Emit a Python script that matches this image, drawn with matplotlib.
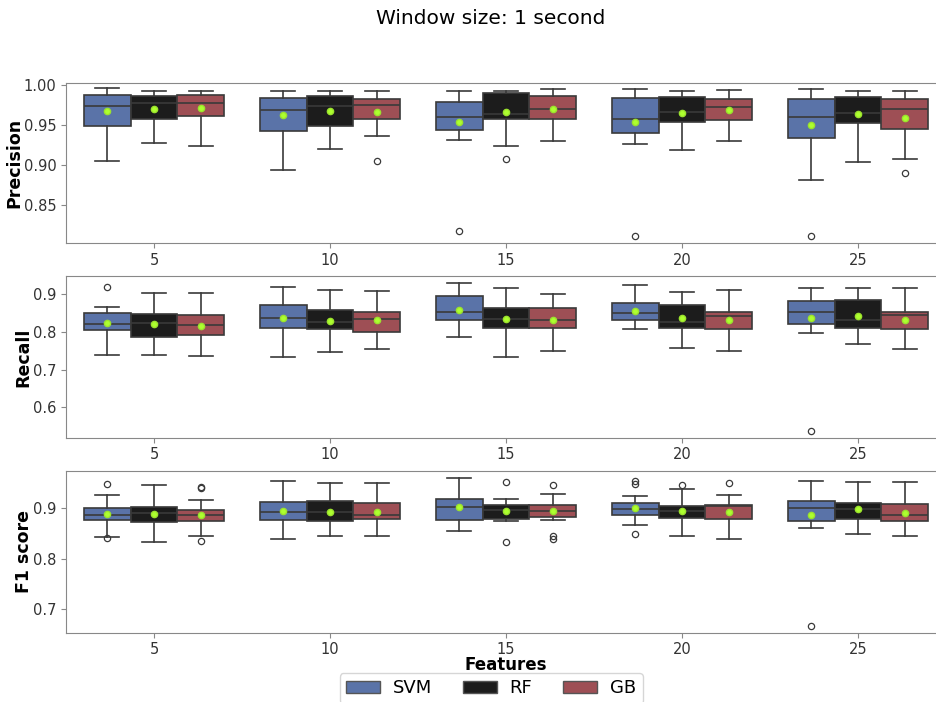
#### Workspace setup ####
import matplotlib

matplotlib.use("Agg")
import matplotlib.pyplot as plt
from matplotlib.patches import Patch

#### Data ####
features = [5, 10, 15, 20, 25]
models = ["SVM", "RF", "GB"]
colours = ["#5a73a8", "#1c1c1c", "#9e4f55"]

# each list: [SVM, RF, GB], each inner list follows `features`
precision_whishi = [[0.9966, 0.9933, 0.9933, 0.995, 0.9958],
                    [0.9925, 0.9925, 0.9925, 0.9925, 0.9925],
                    [0.9933, 0.9925, 0.995, 0.9937, 0.9925]]
precision_q3 = [[0.988, 0.984, 0.979, 0.984, 0.983],
                [0.987, 0.9866, 0.990, 0.9858, 0.9858],
                [0.988, 0.983, 0.987, 0.9825, 0.983]]
precision_med = [[0.974, 0.969, 0.961, 0.9575, 0.961],
                 [0.9775, 0.974, 0.9637, 0.967, 0.965],
                 [0.9775, 0.9754, 0.970, 0.9725, 0.971]]
precision_mean = [[0.968, 0.963, 0.9545, 0.954, 0.950],
                  [0.971, 0.968, 0.9666, 0.9658, 0.964],
                  [0.9716, 0.9666, 0.9704, 0.969, 0.9587]]
precision_q1 = [[0.9487, 0.943, 0.944, 0.941, 0.9345],
                [0.9575, 0.9487, 0.9575, 0.9545, 0.9533],
                [0.962, 0.9575, 0.9575, 0.9566, 0.9454]]
precision_whislo = [[0.906, 0.894, 0.932, 0.927, 0.882],
                    [0.928, 0.921, 0.9245, 0.919, 0.904],
                    [0.9245, 0.9366, 0.931, 0.930, 0.908]]
precision_fliers = [[[], [], [0.818], [0.812], [0.812]],
                    [[], [], [0.908], [], []],
                    [[], [0.906], [], [], [0.890]]]

recall_whishi = [[0.8655, 0.9186, 0.930, 0.9247, 0.9159],
                 [0.904, 0.911, 0.916, 0.906, 0.916],
                 [0.903, 0.910, 0.900, 0.911, 0.916]]
recall_q3 = [[0.8496, 0.8725, 0.8955, 0.8769, 0.8814],
             [0.848, 0.858, 0.863, 0.8725, 0.885],
             [0.844, 0.854, 0.863, 0.854, 0.854]]
recall_med = [[0.822, 0.838, 0.854, 0.8496, 0.852],
              [0.825, 0.8265, 0.8336, 0.827, 0.831],
              [0.819, 0.834, 0.833, 0.842, 0.845]]
recall_mean = [[0.824, 0.838, 0.858, 0.855, 0.837],
               [0.822, 0.829, 0.835, 0.837, 0.842],
               [0.817, 0.833, 0.833, 0.831, 0.833]]
recall_q1 = [[0.8045, 0.810, 0.833, 0.833, 0.821],
             [0.786, 0.807, 0.811, 0.811, 0.810],
             [0.791, 0.800, 0.811, 0.807, 0.807]]
recall_whislo = [[0.738, 0.734, 0.786, 0.807, 0.798],
                 [0.738, 0.747, 0.733, 0.758, 0.768],
                 [0.7355, 0.754, 0.750, 0.750, 0.756]]
recall_fliers = [[[0.919], [], [], [], [0.538]],
                 [[], [], [], [], []],
                 [[], [], [], [], []]]

f1_whishi = [[0.926, 0.954, 0.961, 0.924, 0.954],
             [0.947, 0.950, 0.9185, 0.938, 0.952],
             [0.917, 0.950, 0.929, 0.926, 0.952]]
f1_q3 = [[0.901, 0.912, 0.919, 0.910, 0.915],
         [0.903, 0.914, 0.907, 0.905, 0.9105],
         [0.896, 0.9105, 0.907, 0.907, 0.9086]]
f1_med = [[0.886, 0.892, 0.902, 0.899, 0.900],
          [0.890, 0.892, 0.897, 0.894, 0.898],
          [0.886, 0.886, 0.895, 0.905, 0.887]]
f1_mean = [[0.889, 0.895, 0.903, 0.901, 0.887],
           [0.889, 0.892, 0.895, 0.895, 0.898],
           [0.886, 0.893, 0.895, 0.893, 0.890]]
f1_q1 = [[0.877, 0.877, 0.877, 0.887, 0.875],
         [0.872, 0.875, 0.879, 0.880, 0.879],
         [0.875, 0.879, 0.883, 0.879, 0.875]]
f1_whislo = [[0.843, 0.839, 0.855, 0.866, 0.860],
             [0.832, 0.844, 0.875, 0.844, 0.848],
             [0.845, 0.844, 0.877, 0.838, 0.844]]
f1_fliers = [[[0.949, 0.840], [], [], [0.955, 0.948, 0.848], [0.667]],
             [[], [], [0.952, 0.833], [0.947], []],
             [[0.942, 0.940, 0.834], [], [0.946, 0.845, 0.838], [0.951], []]]

panels = [
    ("Precision", precision_whislo, precision_q1, precision_med, precision_mean,
     precision_q3, precision_whishi, precision_fliers,
     (0.8025, 1.003), [0.85, 0.90, 0.95, 1.00], "{:.2f}"),
    ("Recall", recall_whislo, recall_q1, recall_med, recall_mean,
     recall_q3, recall_whishi, recall_fliers,
     (0.5196, 0.9486), [0.6, 0.7, 0.8, 0.9], "{:.1f}"),
    ("F1 score", f1_whislo, f1_q1, f1_med, f1_mean,
     f1_q3, f1_whishi, f1_fliers,
     (0.6527, 0.974), [0.7, 0.8, 0.9], "{:.1f}"),
]


#### MAIN FUNCTION ####
def main():
    plt.rcParams["font.family"] = "DejaVu Sans"
    fig = plt.figure(figsize=(9.36, 7.02), dpi=100)

    # axes rects in figure fractions; the right edge runs past the canvas like the original
    rects = [
        [0.0705, 0.6534, 0.9402, 0.2284],
        [0.0705, 0.3765, 0.9402, 0.2303],
        [0.0705, 0.0987, 0.9402, 0.2303],
    ]

    line_col = "#3a3a3a"
    box_w = 0.8 / 3

    for rect, panel in zip(rects, panels):
        (label, wlo, q1, med, mean, q3, whi, fl, ylim, yticks, fmt) = panel
        ax = fig.add_axes(rect)

        for j, model in enumerate(models):
            stats = []
            for i in range(len(features)):
                stats.append({
                    "whislo": wlo[j][i], "q1": q1[j][i], "med": med[j][i],
                    "mean": mean[j][i], "q3": q3[j][i], "whishi": whi[j][i],
                    "fliers": fl[j][i],
                })
            positions = [i + (j - 1) * box_w for i in range(len(features))]
            ax.bxp(
                stats,
                positions=positions,
                widths=box_w,
                patch_artist=True,
                showmeans=True,
                manage_ticks=False,
                boxprops=dict(facecolor=colours[j], edgecolor=line_col, linewidth=1.2),
                medianprops=dict(color=line_col, linewidth=1.2),
                whiskerprops=dict(color=line_col, linewidth=1.2),
                capprops=dict(color=line_col, linewidth=1.2),
                flierprops=dict(marker="o", markerfacecolor="none",
                                markeredgecolor=line_col, markersize=4.5,
                                markeredgewidth=0.9),
                meanprops=dict(marker="o", markerfacecolor="#adff2f",
                               markeredgecolor="#9be22d", markersize=4.5),
            )

        ax.set_xlim(-0.5, len(features) - 0.5)
        ax.set_ylim(*ylim)
        ax.set_xticks(range(len(features)))
        ax.set_xticklabels([str(f) for f in features])
        ax.set_yticks(yticks)
        ax.set_yticklabels([fmt.format(t) for t in yticks])
        ax.tick_params(labelsize=10.5, colors="#333333", length=3.5, color="#888888")
        ax.set_ylabel(label, fontsize=12.5, fontweight="bold", labelpad=0)
        for sp in ax.spines.values():
            sp.set_color("#888888")

    ax.set_xlabel("Features", fontsize=12, fontweight="bold", labelpad=-1)

    # Legend and title are centred on the original (wider) canvas
    handles = [Patch(facecolor=c, edgecolor="#555555", label=m)
               for m, c in zip(models, colours)]
    fig.legend(handles=handles, loc="upper center", bbox_to_anchor=(0.5246, 0.0413),
               ncol=3, fontsize=13, frameon=True, handlelength=1.9,
               handletextpad=0.7, columnspacing=1.7, borderaxespad=0,
               borderpad=0.35, edgecolor="#cccccc")
    fig.suptitle("Window size: 1 second", x=0.5246, y=0.974, va="center", fontsize=14.5)

    fig.savefig("out.png", dpi=100)
    plt.close(fig)


#### ENTRY POINT ####
if __name__ == "__main__":
    main()
